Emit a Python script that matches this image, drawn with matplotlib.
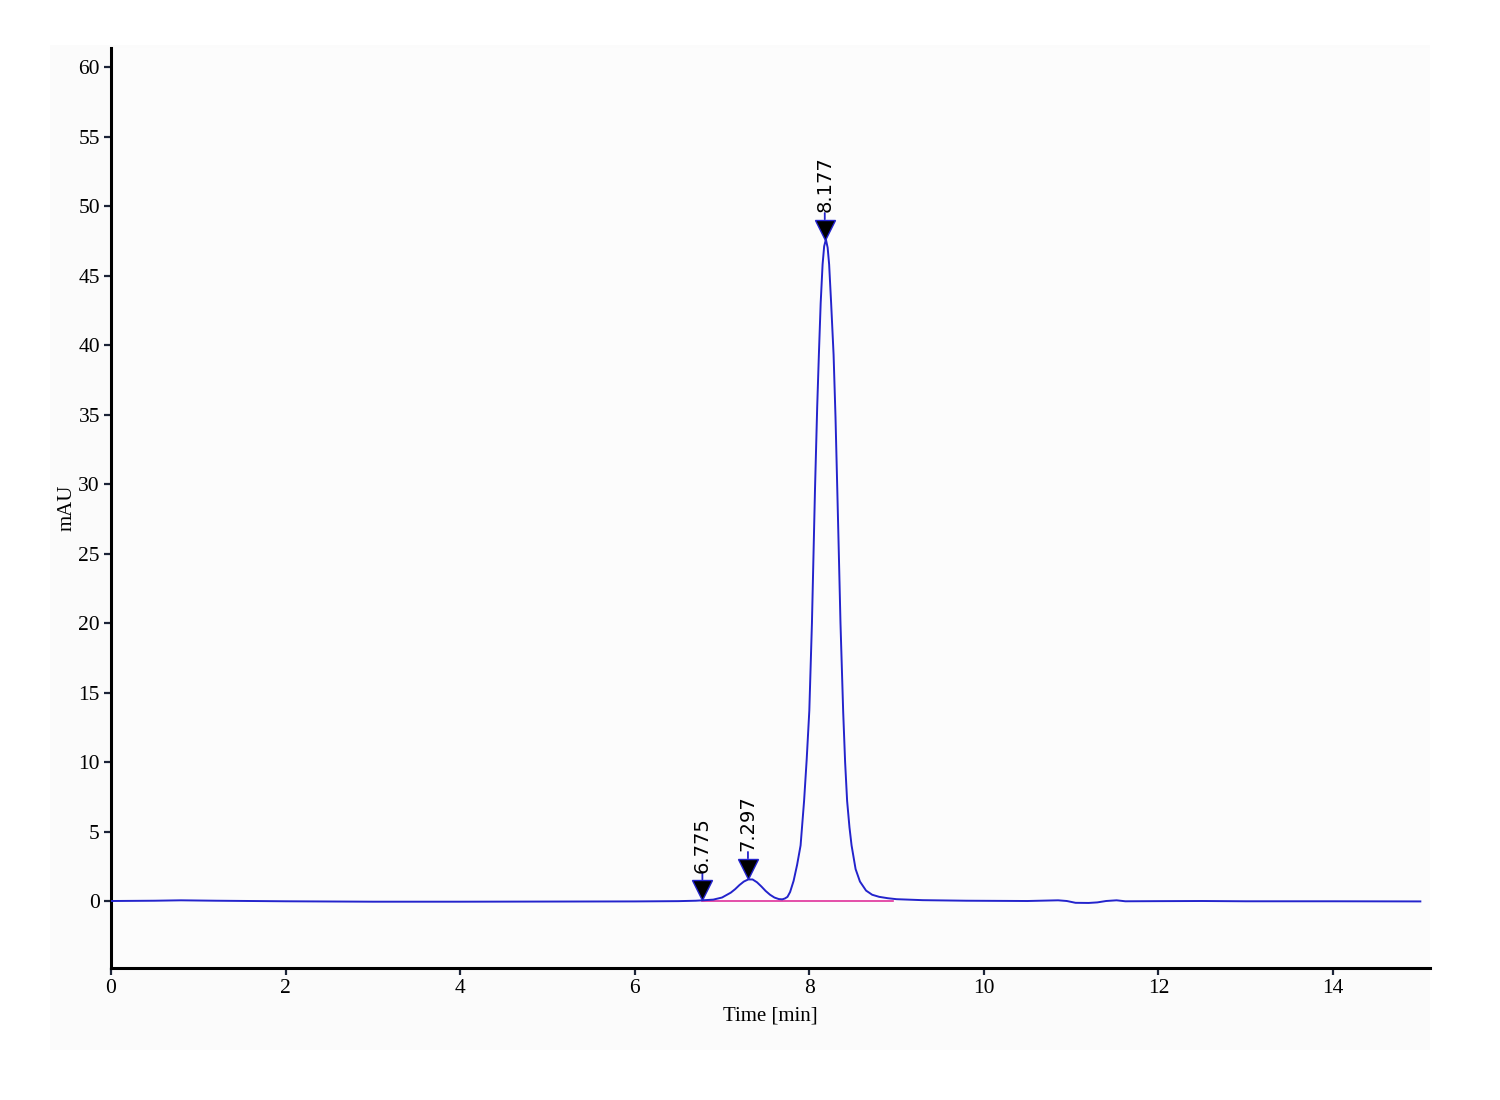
import matplotlib
matplotlib.use("Agg")
from matplotlib import pyplot as plt
from matplotlib.patches import Rectangle
from matplotlib.transforms import offset_copy

# chromatogram trace (time in min, signal in mAU)
time_min = [0.0, 0.5, 0.8, 1.2, 2.0, 3.0, 4.0, 5.0, 6.0, 6.5, 6.7, 6.78,
            6.9, 7.0, 7.1, 7.15, 7.2, 7.25, 7.3, 7.35, 7.4, 7.45, 7.5,
            7.55, 7.6, 7.65, 7.69, 7.72, 7.75, 7.78, 7.82, 7.86, 7.9,
            7.94, 7.97, 8.0, 8.03, 8.065, 8.09, 8.11, 8.13, 8.152, 8.17,
            8.19, 8.21, 8.227, 8.25, 8.278, 8.3, 8.32, 8.34, 8.357, 8.388,
            8.41, 8.433, 8.46, 8.484, 8.53, 8.58, 8.65, 8.72, 8.8, 8.9,
            9.0, 9.3, 9.8, 10.5, 10.85, 10.95, 11.05, 11.2, 11.3, 11.4,
            11.52, 11.62, 12.0, 12.5, 13.0, 14.0, 15.0]
signal_mau = [0.0, 0.02, 0.05, 0.02, -0.02, -0.05, -0.05, -0.04, -0.03,
              -0.01, 0.02, 0.05, 0.1, 0.25, 0.6, 0.85, 1.15, 1.4, 1.55,
              1.55, 1.35, 1.05, 0.72, 0.45, 0.25, 0.14, 0.12, 0.18, 0.3,
              0.65, 1.45, 2.6, 4.0, 7.2, 10.2, 13.7, 20.0, 29.6, 35.5,
              39.4, 43.0, 45.8, 47.1, 47.6, 47.0, 45.8, 43.0, 39.3, 34.8,
              29.7, 24.5, 20.0, 13.6, 10.0, 7.2, 5.3, 4.0, 2.3, 1.4, 0.75,
              0.45, 0.3, 0.2, 0.13, 0.06, 0.02, 0.0, 0.05, 0.0, -0.13,
              -0.14, -0.1, 0.0, 0.05, -0.02, -0.01, 0.0, -0.02, -0.02, -0.03]

# integration baseline
base_t = [6.775, 8.96]
base_y = [0.0, 0.0]

# peak annotations
peak_times = [6.775, 7.297, 8.177]
peak_heights = [0.05, 1.58, 47.55]
peak_labels = ["6.775", "7.297", "8.177"]

x_ticks = [0, 2, 4, 6, 8, 10, 12, 14]
y_ticks = [0, 5, 10, 15, 20, 25, 30, 35, 40, 45, 50, 55, 60]

serif = "Liberation Serif"
line_blue = "#2323cc"
tick_col = "#1c2438"

fig = plt.figure(figsize=(15, 11), dpi=100, facecolor="white")
bg = Rectangle((0.0333, 0.0455), 0.92, 0.9136, transform=fig.transFigure,
               facecolor="#fbfbfb", edgecolor="none", zorder=-10)
fig.patches.append(bg)
ax = fig.add_axes([0.074, 0.12, 0.8793, 0.8364])
ax.set_zorder(1)
ax.set_facecolor("#fcfcfc")

ax.plot(base_t, base_y, color="#e0309a", lw=1.2, zorder=2)
ax.plot(time_min, signal_mau, color=line_blue, lw=1.4, zorder=3)

for t, h, lab in zip(peak_times, peak_heights, peak_labels):
    # triangle tip sits on the peak apex
    tri_tr = offset_copy(ax.transData, fig=fig, x=0, y=7.5, units="points")
    ax.plot([t], [h], marker="v", ms=15, mfc="black", mec=line_blue, mew=1.0,
            transform=tri_tr, zorder=5, clip_on=False)
    stem_tr = offset_copy(ax.transData, fig=fig, x=0, y=15, units="points")
    ax.annotate("", xy=(t, h), xycoords=stem_tr, xytext=(0, 4.5),
                textcoords="offset points",
                arrowprops=dict(arrowstyle="-", color=line_blue, lw=1.3,
                                shrinkA=0, shrinkB=0))
    ax.annotate(lab, xy=(t, h), xytext=(0, 20), textcoords="offset points",
                rotation=90, ha="center", va="bottom", fontsize=14,
                family="DejaVu Sans", color="black")

ax.set_xlim(0, 15.11)
ax.set_ylim(-4.82, 61.37)
ax.set_xticks(x_ticks)
ax.set_yticks(y_ticks)
ax.set_xticklabels([str(v) for v in x_ticks], family=serif, fontsize=15.5)
ax.set_yticklabels([str(v) for v in y_ticks], family=serif, fontsize=15.5)
ax.tick_params(axis="both", direction="out", length=5, width=1.6, color=tick_col, pad=3)

for side in ["top", "right"]:
    ax.spines[side].set_visible(False)
for side in ["left", "bottom"]:
    ax.spines[side].set_linewidth(2.2)
    ax.spines[side].set_color("black")

ax.set_xlabel("Time [min]", family=serif, fontsize=15, labelpad=6)
ax.set_ylabel("mAU", family=serif, fontsize=15, labelpad=1)

fig.savefig("out.png", dpi=100, facecolor="white")
